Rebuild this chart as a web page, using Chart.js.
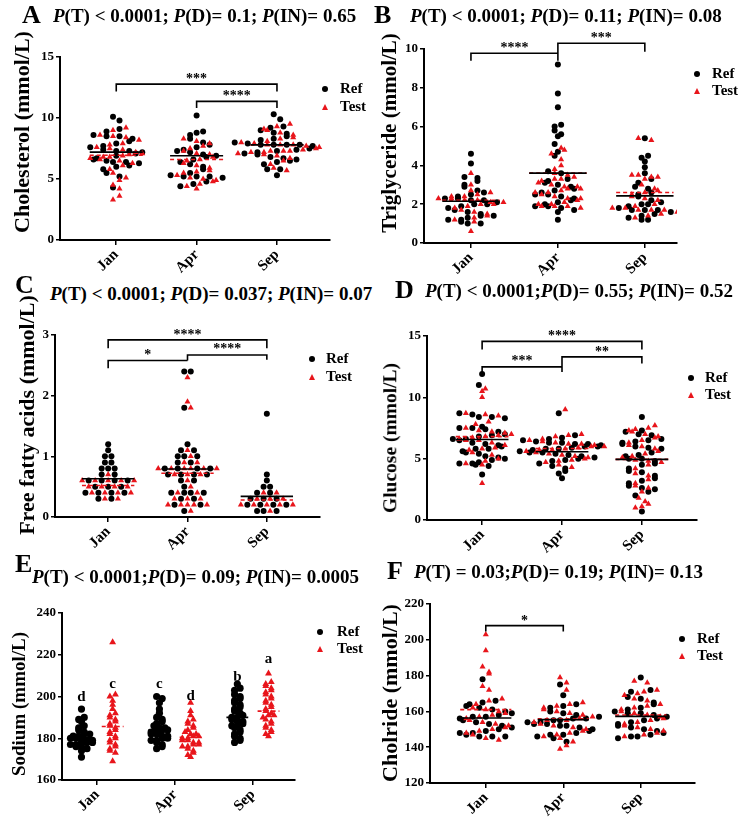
<!DOCTYPE html>
<html><head><meta charset="utf-8">
<script src="https://cdn.jsdelivr.net/npm/chart.js@4.4.0/dist/chart.umd.min.js"></script>
<style>
body{margin:0;background:#fff;width:744px;height:821px;position:relative;overflow:hidden;font-family:"Liberation Serif","Times New Roman",serif;font-weight:bold;color:#000}
canvas{position:absolute}
.lt{position:absolute;font-size:26px;line-height:1;z-index:2}
.tt{position:absolute;font-size:19px;line-height:1;white-space:nowrap;z-index:2}
.lg{position:absolute;font-size:15px;line-height:1;white-space:nowrap;z-index:2}
.yt{position:absolute;line-height:1;white-space:nowrap;z-index:2;transform:translate(-50%,-50%) rotate(-90deg)}
.dot{position:absolute;width:6px;height:6px;border-radius:50%;background:#000;z-index:2}
.tri{position:absolute;width:0;height:0;border-left:3.5px solid transparent;border-right:3.5px solid transparent;border-bottom:6px solid #e8151b;z-index:2}
</style></head><body>
<script>
const months = ['Jan', 'Apr', 'Sep'];
const RED = '#e8151b';

// ---- A: Cholesterol ----
const cholRefJan = [10.1, 9.8, 9.1, 8.9, 8.6, 8.5, 8.5, 8.3, 8.1, 7.9, 7.7, 7.6, 7.4, 7.3, 7.3, 7.2, 7.1, 6.9, 6.7, 6.6, 6.5, 6.4, 6.4, 6.3, 6.1, 6.0, 5.8, 5.5, 5.2, 4.3];
const cholTestJan = [9.2, 9.0, 8.6, 8.5, 8.4, 8.2, 7.9, 7.8, 7.6, 7.5, 7.4, 7.2, 7.1, 7.0, 6.9, 6.8, 6.8, 6.7, 6.6, 6.5, 6.3, 6.1, 5.8, 5.5, 5.1, 4.9, 4.5, 4.2, 3.6, 3.3];
const cholRefApr = [10.2, 8.9, 8.8, 8.6, 8.3, 8.0, 7.8, 7.6, 7.4, 7.3, 7.2, 7.0, 6.9, 6.8, 6.6, 6.4, 6.2, 6.0, 5.8, 5.5, 5.3, 5.2, 5.2, 5.2, 5.1, 4.8, 4.6, 4.4];
const cholTestApr = [8.3, 8.1, 7.9, 7.7, 7.5, 7.3, 7.1, 7.0, 6.8, 6.6, 6.5, 6.3, 6.1, 5.9, 5.7, 5.6, 5.5, 5.3, 5.1, 5.0, 4.9, 4.8, 4.6, 4.4, 4.2];
const cholRefSep = [10.3, 9.9, 9.3, 9.2, 9.0, 8.8, 8.7, 8.5, 8.3, 8.2, 8.0, 7.9, 7.8, 7.8, 7.8, 7.8, 7.7, 7.5, 7.4, 7.3, 7.2, 7.1, 7.0, 6.8, 6.7, 6.6, 6.5, 6.4, 6.2, 5.8, 5.8, 5.3];
const cholTestSep = [9.5, 9.3, 9.1, 9.0, 8.8, 8.6, 8.4, 8.3, 8.1, 8.0, 7.9, 7.8, 7.8, 7.8, 7.7, 7.6, 7.5, 7.4, 7.3, 7.3, 7.3, 7.2, 7.2, 7.1, 7.0, 6.9, 6.7, 6.5, 6.2, 5.9, 5.7];
const cholMeanRef = [7.2, 6.9, 7.8];
const cholMeanTest = [6.95, 6.6, 7.8];
const cholBrackets = [[0, 2, 12.78, 12.18, 12.18, '***', 13.41], [1, 2, 11.36, 10.81, 10.81, '****', 12.05]];

// ---- B: Triglyceride ----
const tgRefJan = [4.6, 4.1, 3.4, 3.35, 3.2, 3.0, 2.9, 2.7, 2.6, 2.5, 2.4, 2.3, 2.3, 2.2, 2.2, 2.1, 2.0, 2.0, 1.9, 1.8, 1.7, 1.6, 1.5, 1.4, 1.4, 1.3, 1.2, 1.2, 1.1, 1.0, 1.0];
const tgTestJan = [3.6, 3.0, 2.7, 2.6, 2.5, 2.4, 2.4, 2.3, 2.3, 2.2, 2.2, 2.1, 2.1, 2.0, 2.0, 1.9, 1.8, 1.7, 1.6, 1.5, 1.4, 1.3, 1.2, 1.1, 0.6];
const tgRefApr = [9.2, 7.7, 7.0, 6.1, 6.0, 5.8, 5.6, 5.5, 5.1, 4.7, 4.5, 3.7, 3.6, 3.3, 3.2, 3.1, 3.0, 2.9, 2.8, 2.7, 2.6, 2.5, 2.5, 2.4, 2.3, 2.2, 2.1, 2.0, 1.9, 1.9, 1.8, 1.7, 1.6, 1.2];
const tgTestApr = [4.9, 4.8, 4.6, 4.3, 4.0, 3.8, 3.6, 3.5, 3.4, 3.3, 3.3, 3.2, 3.1, 3.0, 2.9, 2.9, 2.8, 2.8, 2.7, 2.6, 2.6, 2.5, 2.4, 2.3, 2.3, 2.2, 2.1, 2.0, 2.0, 1.9, 1.9, 1.9, 1.8];
const tgRefSep = [5.4, 4.5, 4.4, 4.2, 3.9, 3.6, 3.3, 3.1, 2.9, 2.8, 2.6, 2.5, 2.4, 2.2, 2.1, 2.0, 2.0, 1.9, 1.8, 1.7, 1.7, 1.7, 1.6, 1.5, 1.4, 1.3, 1.2, 1.2];
const tgTestSep = [5.4, 5.3, 3.5, 3.5, 3.4, 3.4, 3.3, 3.0, 2.8, 2.7, 2.6, 2.5, 2.4, 2.3, 2.2, 2.0, 1.9, 1.8, 1.8, 1.7, 1.7, 1.7, 1.6, 1.5, 1.4, 1.3];
const tgMeanRef = [2.15, 3.6, 2.43];
const tgMeanTest = [2.2, 3.6, 2.6];
const tgBrackets = [[0, 1, 9.78, 9.4, 9.4, '****', 10.2], [1, 2, 10.3, 9.78, 9.86, '***', 10.7]];

// ---- C: Free fatty acids ----
const ffaRefJan = [1.2, 1.1, 1.0, 1.0, 0.9, 0.9, 0.8, 0.8, 0.8, 0.7, 0.7, 0.6, 0.6, 0.6, 0.6, 0.5, 0.5, 0.5, 0.4, 0.4, 0.4, 0.4, 0.3, 0.3];
const ffaTestJan = [0.7, 0.6, 0.6, 0.6, 0.6, 0.6, 0.5, 0.5, 0.5, 0.5, 0.4, 0.4, 0.4, 0.4, 0.3, 0.3];
const ffaRefApr = [2.4, 2.4, 1.8, 1.2, 1.1, 1.1, 1.0, 1.0, 1.0, 0.9, 0.9, 0.8, 0.8, 0.8, 0.8, 0.7, 0.7, 0.7, 0.7, 0.6, 0.6, 0.5, 0.4, 0.4, 0.4, 0.4, 0.3, 0.3, 0.2, 0.2, 0.1];
const ffaTestApr = [2.3, 1.9, 1.8, 1.1, 1.0, 0.9, 0.9, 0.8, 0.8, 0.8, 0.8, 0.8, 0.8, 0.7, 0.7, 0.7, 0.6, 0.5, 0.4, 0.4, 0.3, 0.3, 0.3, 0.2, 0.2, 0.2, 0.2, 0.2, 0.1];
const ffaRefSep = [1.7, 0.7, 0.6, 0.5, 0.5, 0.4, 0.4, 0.3, 0.3, 0.3, 0.2, 0.2, 0.2, 0.2, 0.1, 0.1, 0.1];
const ffaTestSep = [0.4, 0.4, 0.3, 0.3, 0.3, 0.2, 0.2, 0.2, 0.2, 0.2, 0.1];
const ffaMeanRef = [0.63, 0.79, 0.34];
const ffaMeanTest = [0.52, 0.72, 0.28];
const ffaBrackets = [[0, 2, 2.92, 2.78, 2.78, '****', 3.05], [0, 1, 2.58, 2.45, 2.58, '*', 2.71], [1, 2, 2.67, 2.58, 2.59, '****', 2.82]];

// ---- D: Glucose ----
const gluRefJan = [11.9, 11.0, 8.7, 8.6, 8.4, 8.4, 8.3, 7.6, 7.5, 7.5, 7.4, 7.2, 7.0, 6.9, 6.8, 6.6, 6.6, 6.5, 6.3, 6.2, 6.1, 6.0, 5.8, 5.8, 5.6, 5.5, 5.4, 5.2, 5.1, 5.0, 4.9, 4.7, 4.6, 4.6, 4.5, 4.4, 3.7];
const gluTestJan = [10.7, 10.5, 10.0, 8.7, 8.6, 8.5, 8.0, 7.8, 7.5, 7.3, 7.2, 7.1, 7.0, 6.9, 6.8, 6.7, 6.6, 6.5, 6.5, 6.3, 6.1, 5.9, 5.8, 5.7, 5.5, 5.3, 5.0, 4.8, 4.6, 4.5, 3.0];
const gluRefApr = [8.7, 6.9, 6.7, 6.6, 6.5, 6.4, 6.3, 6.3, 6.2, 6.2, 6.1, 6.0, 6.0, 5.9, 5.8, 5.8, 5.7, 5.6, 5.5, 5.5, 5.4, 5.3, 5.2, 5.1, 5.0, 4.9, 4.8, 4.6, 4.4, 4.2, 4.0, 3.8, 3.4];
const gluTestApr = [9.0, 7.0, 6.9, 6.8, 6.6, 6.5, 6.4, 6.3, 6.2, 6.2, 6.1, 6.0, 6.0, 5.9, 5.8, 5.7, 5.7, 5.6, 5.5, 5.4, 5.3, 5.2, 5.1, 5.0, 4.9, 4.8, 4.7, 4.5, 4.3];
const gluRefSep = [8.4, 7.3, 7.2, 7.0, 6.9, 6.6, 6.5, 6.4, 6.3, 6.2, 6.0, 5.9, 5.8, 5.5, 5.3, 5.2, 5.0, 5.0, 4.8, 4.6, 4.5, 4.2, 4.0, 3.9, 3.6, 3.4, 3.2, 3.0, 2.8, 2.6, 2.5, 2.3, 2.0, 0.7];
const gluTestSep = [7.7, 7.5, 7.4, 7.3, 7.2, 7.0, 6.8, 6.7, 6.5, 6.3, 6.1, 6.0, 5.8, 5.6, 5.4, 5.2, 5.1, 4.9, 4.8, 4.7, 4.5, 4.2, 3.8, 3.6, 3.3, 3.0, 2.8, 2.6, 2.3, 1.8, 1.5, 1.3, 1.1, 1.0];
const gluMeanRef = [6.56, 5.56, 4.94];
const gluMeanTest = [6.8, 5.83, 4.94];
const gluBrackets = [[0, 2, 14.56, 13.9, 13.9, '****', 15.2], [0, 1, 12.48, 11.93, 12.07, '***', 13.15], [1, 2, 13.3, 12.48, 12.75, '**', 13.9]];

// ---- E: Sodium ----
const naRefJan = [194, 190, 189, 188, 186, 185, 184, 183, 182, 182, 181, 181, 180, 180, 180, 179, 179, 178, 178, 178, 177, 177, 176, 176, 175, 174, 171];
const naTestJan = [226, 201, 200, 198, 196, 194, 192, 191, 190, 189, 188, 187, 186, 185, 184, 183, 182, 181, 180, 179, 178, 177, 176, 175, 174, 173, 169];
const naRefApr = [200, 199, 197, 194, 192, 190, 189, 188, 187, 186, 185, 185, 184, 184, 183, 183, 182, 182, 181, 181, 180, 180, 179, 179, 178, 177, 176, 175];
const naTestApr = [197, 193, 191, 189, 188, 187, 186, 185, 184, 183, 182, 182, 181, 181, 180, 180, 179, 179, 178, 178, 177, 177, 176, 176, 175, 174, 173, 172, 171];
const naRefSep = [206, 204, 203, 201, 200, 199, 198, 197, 196, 195, 194, 193, 192, 191, 190, 190, 189, 188, 188, 187, 186, 186, 185, 184, 183, 182, 181, 180, 179, 178];
const naTestSep = [211, 207, 206, 205, 204, 203, 202, 201, 200, 199, 198, 197, 196, 195, 194, 193, 192, 191, 191, 190, 189, 188, 187, 186, 185, 184, 183, 182, 181];
const naMeanRef = [180.3, 184, 190];
const naMeanTest = [185.6, 180.5, 193];
const naLetters = [['d', 200], ['c', 206.4], ['c', 206.4], ['d', 200.5], ['b', 209.6], ['a', 218]];

// ---- F: Chloride ----
const clRefJan = [178, 166, 165, 164, 163, 162, 161, 160, 159, 158, 157, 157, 156, 155, 154, 153, 152, 151, 150, 149, 148, 148, 147, 146, 146, 146];
const clTestJan = [203, 194, 185, 182, 181, 174, 172, 167, 166, 164, 162, 161, 160, 159, 158, 157, 156, 155, 154, 153, 152, 151, 150, 149, 148, 147, 145, 144];
const clRefApr = [175, 169, 164, 163, 162, 160, 159, 158, 157, 156, 156, 155, 155, 154, 154, 153, 153, 152, 152, 151, 150, 149, 148, 147, 147, 146, 145, 143];
const clTestApr = [179, 176, 172, 165, 164, 163, 162, 161, 160, 159, 158, 157, 156, 155, 155, 154, 153, 152, 151, 150, 149, 148, 147, 146, 145, 143, 141, 139];
const clRefSep = [179, 172, 171, 168, 167, 165, 164, 162, 161, 160, 159, 159, 158, 157, 156, 155, 154, 153, 152, 151, 150, 149, 148, 147, 146, 146, 145];
const clTestSep = [177, 176, 172, 171, 170, 169, 167, 166, 164, 163, 162, 161, 160, 159, 158, 157, 156, 155, 154, 153, 152, 151, 150, 149, 148, 147, 146];
const clMeanRef = [156.3, 155.4, 157.2];
const clMeanTest = [161, 155.8, 158];
const clBrackets = [[0, 1, 207.9, 204.7, 204.7, '*', 212.2]];

const panels = [
  {letter: 'A', title: '<i>P</i>(T) &lt; 0.0001; <i>P</i>(D)= 0.1; <i>P</i>(IN)= 0.65',
   refs: [cholRefJan, cholRefApr, cholRefSep], tests: [cholTestJan, cholTestApr, cholTestSep],
   meanRef: cholMeanRef, meanTest: cholMeanTest, brackets: cholBrackets, yLabel: 'Cholesterol (mmol/L)',
   yMin: 0, yMax: 15, step: 5,
   g: {col: 0, L: 60, R: 330, T: 57, B: 240, yt: [22, 132], ts: 22, xMin: -0.7, xMax: 2.66,
       letter: [22, 2], head: [53, 6], leg: [325, 340, 89, 107]}},
  {letter: 'B', title: '<i>P</i>(T) &lt; 0.0001; <i>P</i>(D)= 0.11; <i>P</i>(IN)= 0.08',
   refs: [tgRefJan, tgRefApr, tgRefSep], tests: [tgTestJan, tgTestApr, tgTestSep],
   meanRef: tgMeanRef, meanTest: tgMeanTest, brackets: tgBrackets, yLabel: 'Triglyceride (mmol/L)',
   yMin: 0, yMax: 10, step: 2,
   g: {col: 372, L: 424, R: 677, T: 49, B: 243, yt: [389, 133], ts: 21, xMin: -0.54, xMax: 2.37,
       letter: [374, 2], head: [410, 6], leg: [697, 712, 74, 91]}},
  {letter: 'C', title: '<i>P</i>(T) &lt; 0.0001; <i>P</i>(D)= 0.037; <i>P</i>(IN)= 0.07',
   refs: [ffaRefJan, ffaRefApr, ffaRefSep], tests: [ffaTestJan, ffaTestApr, ffaTestSep],
   meanRef: ffaMeanRef, meanTest: ffaMeanTest, brackets: ffaBrackets, yLabel: 'Free fatty acids (mmol/L)',
   yMin: 0, yMax: 3, step: 1,
   g: {col: 0, L: 55, R: 320, T: 335, B: 517, yt: [27, 415], ts: 22, xMin: -0.67, xMax: 2.67,
       letter: [15, 272], head: [50, 284], leg: [312, 326, 359, 377]}},
  {letter: 'D', title: '<i>P</i>(T) &lt; 0.0001;<i>P</i>(D)= 0.55; <i>P</i>(IN)= 0.52',
   refs: [gluRefJan, gluRefApr, gluRefSep], tests: [gluTestJan, gluTestApr, gluTestSep],
   meanRef: gluMeanRef, meanTest: gluMeanTest, brackets: gluBrackets, yLabel: 'Glucose (mmol/L)',
   yMin: 0, yMax: 15, step: 5,
   g: {col: 372, L: 427, R: 697, T: 336, B: 520, yt: [390, 438], ts: 19.5, xMin: -0.69, xMax: 2.69,
       letter: [395, 277], head: [425, 281], leg: [691, 705, 378, 395]}},
  {letter: 'E', title: '<i>P</i>(T) &lt; 0.0001;<i>P</i>(D)= 0.09; <i>P</i>(IN)= 0.0005',
   refs: [naRefJan, naRefApr, naRefSep], tests: [naTestJan, naTestApr, naTestSep],
   meanRef: naMeanRef, meanTest: naMeanTest, brackets: [], letters: naLetters, yLabel: 'Sodium (mmol/L)',
   yMin: 160, yMax: 240, step: 20, split: 0.2,
   g: {col: 0, L: 62, R: 295, T: 613, B: 780, yt: [18, 704], ts: 19, xMin: -0.45, xMax: 2.54,
       letter: [15, 551], head: [32, 567], leg: [320, 337, 632, 649]}},
  {letter: 'F', title: '<i>P</i>(T) = 0.03;<i>P</i>(D)= 0.19; <i>P</i>(IN)= 0.13',
   refs: [clRefJan, clRefApr, clRefSep], tests: [clTestJan, clTestApr, clTestSep],
   meanRef: clMeanRef, meanTest: clMeanTest, brackets: clBrackets, yLabel: 'Cholride (mmol/L)',
   yMin: 120, yMax: 220, step: 20,
   g: {col: 372, L: 430, R: 695, T: 604, B: 783, yt: [390, 693], ts: 22, xMin: -0.72, xMax: 2.70,
       letter: [387, 558], head: [414, 562], leg: [682, 697, 639, 656]}}
];

function el(cls, html, left, top) {
  const d = document.createElement('div');
  d.className = cls; d.innerHTML = html;
  d.style.left = left + 'px'; d.style.top = top + 'px';
  document.body.appendChild(d);
  return d;
}

// scatter-dot-plot layout: points grouped in horizontal rows (pixel space), spread symmetrically,
// with the two series interleaved evenly inside each row
function rowLayout(items, yScale, rowH, sp) {
  const pts = items.map((it, idx) => ({it, idx, py: yScale.getPixelForValue(it.v), px: 0}));
  pts.sort((a, b) => (a.py - b.py) || (a.idx - b.idx));
  let i = 0, rowNo = 0;
  while (i < pts.length) {
    let j = i; const start = pts[i].py;
    while (j < pts.length && pts[j].py - start < rowH) j++;
    const row = pts.slice(i, j);
    const rs = row.filter(p => p.it.k === 'r'), ts = row.filter(p => p.it.k !== 'r');
    if (rowNo % 2) { rs.reverse(); ts.reverse(); }
    const ordered = [];
    let a = 0, b = 0;
    while (a < rs.length || b < ts.length) {
      if (b >= ts.length || (a < rs.length && (a + 0.5) / rs.length <= (b + 0.5) / ts.length)) ordered.push(rs[a++]);
      else ordered.push(ts[b++]);
    }
    const n = ordered.length;
    ordered.forEach((p, k) => { p.px = (k - (n - 1) / 2) * sp; });
    i = j; rowNo++;
  }
  return pts;
}

const annotPlugin = {
  id: 'annot',
  afterDatasetsDraw(chart, args, opts) {
    const {ctx} = chart; const xs = chart.scales.x, ys = chart.scales.y;
    ctx.save();
    ctx.fillStyle = '#000'; ctx.textAlign = 'center'; ctx.textBaseline = 'alphabetic';
    for (const t of opts.items || []) {
      ctx.font = 'bold ' + t.size + 'px "Liberation Serif"';
      ctx.fillText(t.text, xs.getPixelForValue(t.x), ys.getPixelForValue(t.y) + t.size * t.shift);
    }
    ctx.restore();
  }
};

panels.forEach(p => {
  const g = p.g;
  el('lt', p.letter, g.letter[0], g.letter[1]);
  el('tt', p.title, g.head[0], g.head[1]);
  const yt = el('yt', p.yLabel, g.yt[0], g.yt[1]);
  yt.style.fontSize = g.ts + 'px';
  el('dot', '', g.leg[0] - 3, g.leg[2] - 3);
  el('lg', 'Ref', g.leg[1], g.leg[2] - 8.5);
  el('tri', '', g.leg[0] - 3.5, g.leg[3] - 3.5);
  el('lg', 'Test', g.leg[1], g.leg[3] - 8.5);

  const topPad = 30, xH = 38;
  const cv = document.createElement('canvas');
  const H = g.B - g.T + topPad + xH;
  cv.width = 372; cv.height = H;
  cv.style.left = g.col + 'px'; cv.style.top = (g.T - topPad) + 'px';
  cv.style.width = '372px'; cv.style.height = H + 'px';
  document.body.appendChild(cv);
  const yW = g.L - g.col;

  const split = p.split || 0;
  const half = split ? 0.14 : 0.33;
  const segs = (means, off) => {
    const out = [];
    means.forEach((m, c) => { out.push({x: c + off - half, y: m}, {x: c + off + half, y: m}, {x: c + off + half, y: null}); });
    return out;
  };
  const brPts = [];
  const items = [];
  p.brackets.forEach(b => {
    brPts.push({x: b[0], y: b[3]}, {x: b[0], y: b[2]}, {x: b[1], y: b[2]}, {x: b[1], y: b[4]}, {x: b[1], y: null});
    items.push({text: b[5], x: (b[0] + b[1]) / 2, y: b[6], size: 14, shift: 0.48});
  });
  (p.letters || []).forEach((l, i) => {
    const c = Math.floor(i / 2), off = (i % 2 ? 1 : -1) * split;
    items.push({text: l[0], x: c + off, y: l[1], size: 15, shift: 0.3});
  });

  const refInit = [], testInit = [];
  months.forEach((m, c) => {
    p.refs[c].forEach(v => refInit.push({x: c - split, y: v}));
    p.tests[c].forEach(v => testInit.push({x: c + split, y: v}));
  });

  const font = (s) => ({family: '"Liberation Serif", serif', size: s, weight: 'bold'});
  const chart = new Chart(cv, {
    data: {datasets: [
      {type: 'line', label: 'meanRef', data: segs(p.meanRef, -split), borderColor: '#000', borderWidth: 1.6, pointRadius: 0, spanGaps: false},
      {type: 'line', label: 'meanTest', data: segs(p.meanTest, split), borderColor: RED, borderWidth: 1.6, borderDash: [4, 3], pointRadius: 0, spanGaps: false},
      {type: 'line', label: 'brackets', data: brPts, borderColor: '#000', borderWidth: 1.6, pointRadius: 0, spanGaps: false, clip: false},
      {type: 'scatter', label: 'Test', data: testInit, pointStyle: 'triangle', pointRadius: split ? 4 : 3.5, backgroundColor: RED, borderColor: RED, borderWidth: 0},
      {type: 'scatter', label: 'Ref', data: refInit, pointStyle: 'circle', pointRadius: split ? 3.6 : 3, backgroundColor: '#000', borderColor: '#000', borderWidth: 0}
    ]},
    options: {
      responsive: false, animation: false, devicePixelRatio: 1,
      layout: {padding: {left: 0, top: topPad, right: g.col + 372 - g.R, bottom: 0}},
      plugins: {legend: {display: false}, tooltip: {enabled: false}, annot: {items}},
      scales: {
        x: {type: 'linear', min: g.xMin, max: g.xMax,
            afterBuildTicks: s => { s.ticks = [0, 1, 2].map(v => ({value: v})); },
            afterFit: s => { s.height = xH; },
            ticks: {autoSkip: false, minRotation: 45, maxRotation: 45, padding: 1, color: '#000', font: font(15),
                    callback: v => months[v]},
            grid: {display: true, drawOnChartArea: false, drawTicks: true, tickLength: 5, color: '#000', lineWidth: 1.5},
            border: {display: true, color: '#000', width: 2}},
        y: {type: 'linear', min: p.yMin, max: p.yMax,
            afterFit: s => { s.width = yW; },
            ticks: {stepSize: p.step, padding: 2, color: '#000', font: font(13)},
            grid: {display: true, drawOnChartArea: false, drawTicks: true, tickLength: 4, color: '#000', lineWidth: 1.5},
            border: {display: true, color: '#000', width: 2}}
      }
    },
    plugins: [annotPlugin]
  });

  // dot positions computed from the chart's own scales
  const xs = chart.scales.x, ys = chart.scales.y;
  const pxPerCat = xs.getPixelForValue(1) - xs.getPixelForValue(0);
  const rowH = split ? 4 : 5.5, sp = split ? 5.5 : 6.5;
  const refData = [], testData = [];
  months.forEach((m, c) => {
    const r = p.refs[c], t = p.tests[c];
    if (split) {
      rowLayout(r.map(v => ({k: 'r', v})), ys, rowH, sp).forEach(q => refData.push({x: c - split + q.px / pxPerCat, y: q.it.v}));
      rowLayout(t.map(v => ({k: 't', v})), ys, rowH, sp).forEach(q => testData.push({x: c + split + q.px / pxPerCat, y: q.it.v}));
    } else {
      const mixed = [];
      for (let i = 0; i < Math.max(r.length, t.length); i++) {
        if (i < r.length) mixed.push({k: 'r', v: r[i]});
        if (i < t.length) mixed.push({k: 't', v: t[i]});
      }
      rowLayout(mixed, ys, rowH, sp).forEach(q => (q.it.k === 'r' ? refData : testData).push({x: c + q.px / pxPerCat, y: q.it.v}));
    }
  });
  chart.data.datasets[3].data = testData;
  chart.data.datasets[4].data = refData;
  chart.update('none');
});
</script>
</body></html>
